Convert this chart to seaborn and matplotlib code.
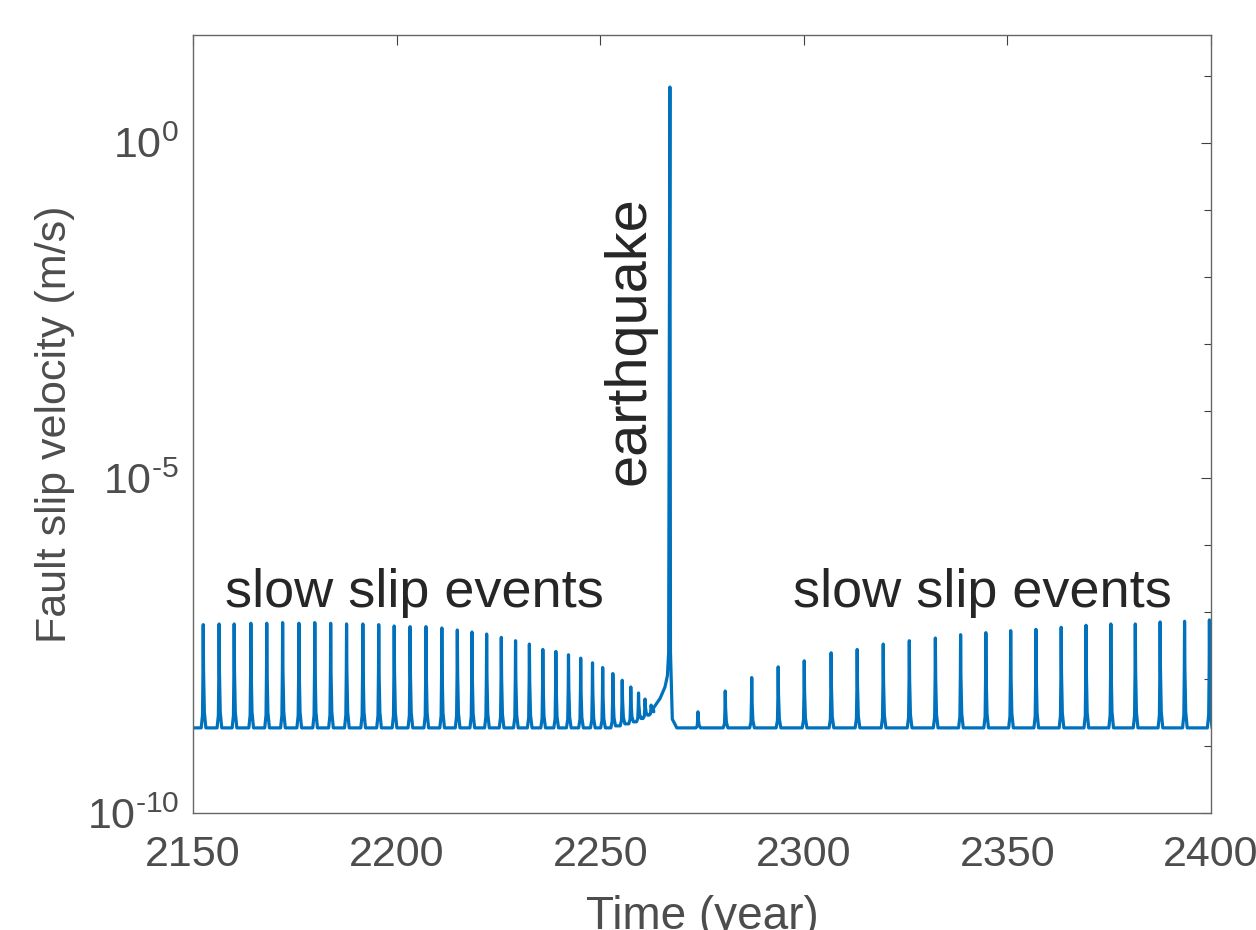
import numpy as np
import pandas as pd
import matplotlib
matplotlib.use('Agg')
import matplotlib.pyplot as plt
import matplotlib.ticker as mticker
import seaborn as sns

# slow slip events before the earthquake: peak time (year), log10 of peak velocity (m/s)
pre_times = [2152.5, 2156.4, 2160.1, 2164.2, 2168.1, 2172.0, 2176.0, 2179.9, 2183.8,
             2187.7, 2191.7, 2195.6, 2199.4, 2203.3, 2207.2, 2211.1, 2214.9, 2218.5,
             2222.1, 2225.7, 2229.2, 2232.6, 2235.9, 2239.1, 2242.2, 2245.2, 2248.1,
             2250.6, 2253.1, 2255.4, 2257.5, 2259.4, 2261.0, 2262.5]
pre_peaks = [-7.19, -7.18, -7.18, -7.17, -7.17, -7.16, -7.17, -7.16, -7.17,
             -7.18, -7.18, -7.19, -7.21, -7.22, -7.22, -7.24, -7.27, -7.30,
             -7.33, -7.38, -7.43, -7.48, -7.56, -7.59, -7.64, -7.69, -7.76,
             -7.83, -7.92, -8.02, -8.12, -8.21, -8.30, -8.39]
# log10 of the velocity minimum after each event
pre_troughs = [-8.73] * 28 + [-8.70, -8.67, -8.64, -8.59, -8.54, -8.49]

# run-up, earthquake and its decay
quake_times = [2263.0, 2264.7, 2265.9, 2266.5, 2266.8, 2267.1, 2267.25, 2267.7, 2268.8]
quake_vals = [-8.44, -8.29, -8.12, -7.95, -7.6, 0.83, -7.6, -8.6, -8.73]

# slow slip events after the earthquake
post_times = [2274.0, 2280.7, 2287.2, 2293.7, 2300.1, 2306.7, 2313.1, 2319.5, 2325.9,
              2332.3, 2338.5, 2344.7, 2350.8, 2357.0, 2363.2, 2369.3, 2375.4, 2381.4,
              2387.5, 2393.5, 2399.6]
post_peaks = [-8.49, -8.18, -7.98, -7.82, -7.73, -7.61, -7.56, -7.48, -7.43,
              -7.39, -7.34, -7.31, -7.28, -7.26, -7.23, -7.20, -7.18, -7.18,
              -7.15, -7.14, -7.12]

baseline = -8.73
x_ticks = [2150, 2200, 2250, 2300, 2350, 2400]
y_ticks = [1e-10, 1e-5, 1e0]
y_ticklabels = ['$\\mathregular{10^{\u201010}}$', '$\\mathregular{10^{\u20105}}$',
                '$\\mathregular{10^{0}}$']

# forma de cada pico (offset em anos, fracao da subida)
rise_dt, rise_fr = [-0.5, -0.18, -0.06, 0.0], [0.0, 0.12, 0.55, 1.0]
fall_dt, fall_fr = [0.08, 0.28, 0.65], [0.55, 0.15, 0.0]


def spike(t, peak, lo_before, lo_after):
    ts, vs = [], []
    for dt, fr in zip(rise_dt, rise_fr):
        ts.append(t + dt)
        vs.append(lo_before + fr * (peak - lo_before))
    for dt, fr in zip(fall_dt, fall_fr):
        ts.append(t + dt)
        vs.append(lo_after + fr * (peak - lo_after))
    return ts, vs


tt, vv = [2150.0], [baseline]
prev = baseline
for t, p, lo in zip(pre_times, pre_peaks, pre_troughs):
    a, b = spike(t, p, prev, lo)
    tt += a
    vv += b
    prev = lo
tt += quake_times
vv += quake_vals
for t, p in zip(post_times, post_peaks):
    a, b = spike(t, p, baseline, baseline)
    tt += a
    vv += b

df = pd.DataFrame({'ano': tt, 'vel': 10 ** np.array(vv)})

sns.set_style('white')
plt.rcParams['font.family'] = ['Liberation Sans', 'DejaVu Sans']
plt.rcParams['mathtext.fontset'] = 'custom'
plt.rcParams['mathtext.rm'] = 'Liberation Sans'

fig = plt.figure(figsize=(12.56, 9.3), dpi=100)
ax = fig.add_axes([0.1537, 0.1258, 0.8105, 0.8366])
sns.lineplot(data=df, x='ano', y='vel', sort=False, estimator=None,
             color='#0072BD', linewidth=2.3, ax=ax)
ax.set_yscale('log')
ax.set_xlim(2150, 2400)
ax.set_ylim(1e-10, 10 ** 1.607)

ax.set_xticks(x_ticks)
ax.set_xticklabels([str(x) for x in x_ticks])
ax.set_yticks(y_ticks)
ax.set_yticklabels(y_ticklabels)
ax.yaxis.set_minor_locator(mticker.LogLocator(base=10, subs=(1.0,), numticks=40))
ax.yaxis.set_minor_formatter(mticker.NullFormatter())
ax.tick_params(which='both', direction='in', top=True, right=True,
               color='#404040', labelcolor='#4d4d4d', labelsize=31)
ax.tick_params(which='major', length=7, width=0.8)
ax.tick_params(which='minor', length=5, width=0.8)
ax.tick_params(axis='x', pad=16)
ax.tick_params(axis='y', pad=10)
for s in ax.spines.values():
    s.set_color('#666666')
    s.set_linewidth(1.0)

ax.set_xlabel('Time (year)', fontsize=33, color='#4d4d4d', va='top')
ax.xaxis.set_label_coords(0.5, -0.105)
ax.set_ylabel('')
ax.text(-0.136, 0.5, 'Fault slip velocity (m/s)', transform=ax.transAxes,
        rotation=90, ha='center', va='center', fontsize=31, color='#4d4d4d')

ax.text(2157.9, 10 ** -6.93, 'slow slip events', fontsize=39, ha='left', va='baseline')
ax.text(2297.3, 10 ** -6.93, 'slow slip events', fontsize=39, ha='left', va='baseline')
ax.text(2257.3, 10 ** -5.1, 'earthquake', fontsize=41.5, rotation=90, ha='center', va='bottom')

fig.savefig('out.png', dpi=100)
